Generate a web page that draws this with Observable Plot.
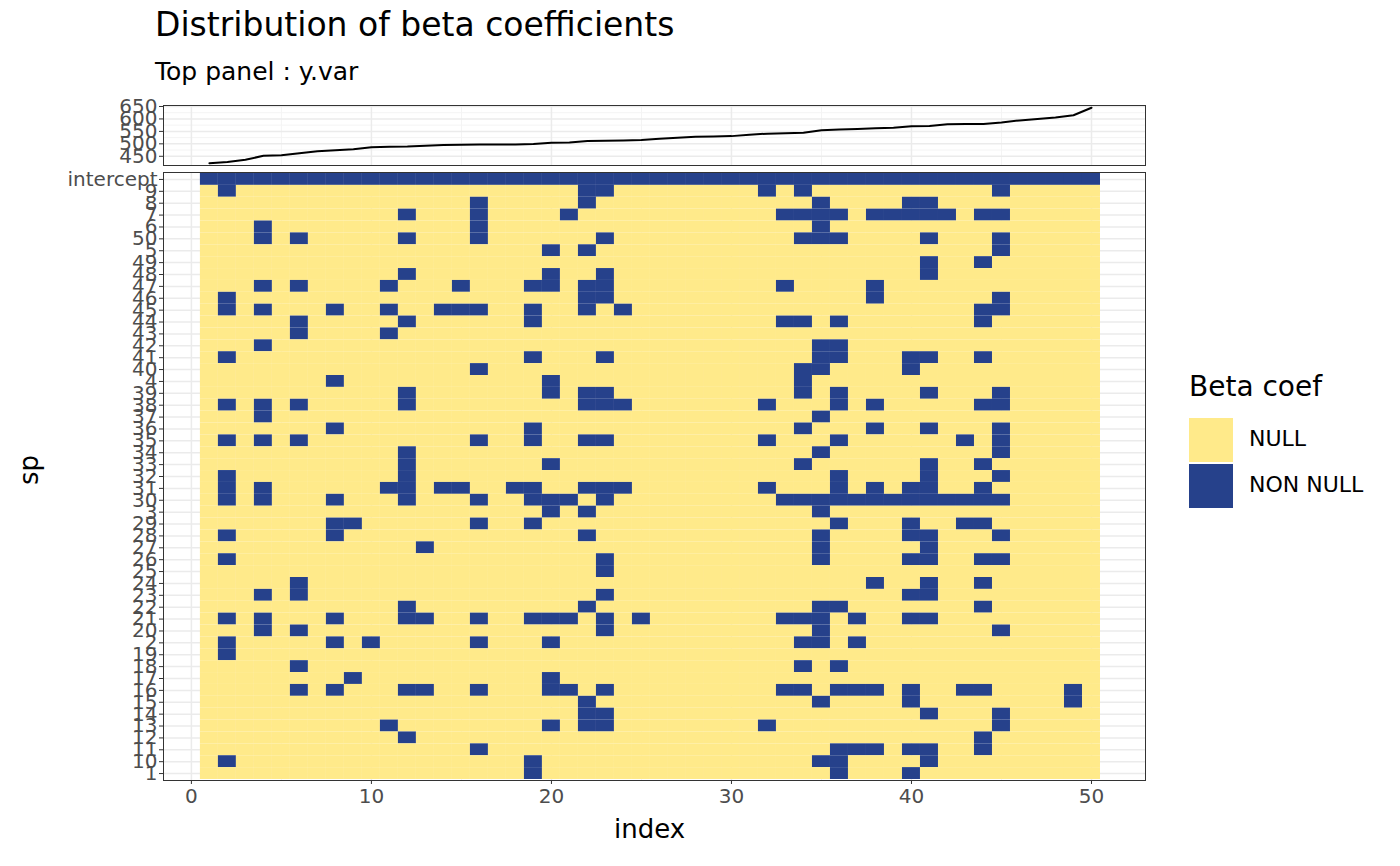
<!DOCTYPE html>
<html>
<head>
<meta charset="utf-8">
<script src="https://cdn.jsdelivr.net/npm/d3@7"></script>
<script src="https://cdn.jsdelivr.net/npm/@observablehq/plot@0.6"></script>
<style>
  body { margin: 0; background: #fff; font-family: "DejaVu Sans", sans-serif; }
  #page { position: relative; width: 1400px; height: 866px; }
  .abs { position: absolute; white-space: nowrap; }
  .key { position: absolute; width: 44px; height: 44px; }
</style>
</head>
<body>
<div id="page">
  <div class="abs" style="left:155px;top:5px;font-size:33px;color:#000">Distribution of beta coefficients</div>
  <div class="abs" style="left:155px;top:57px;font-size:25px;color:#000">Top panel : y.var</div>
  <div class="abs" id="top" style="left:0;top:95px"></div>
  <div class="abs" id="main" style="left:0;top:160px"></div>
  <div class="abs" style="left:14px;top:470px;font-size:26px;transform:translate(0,-50%) rotate(-90deg);transform-origin:center">sp</div>
  <div class="abs" style="left:614px;top:814px;font-size:26px">index</div>
  <div class="abs" style="left:1189px;top:370px;font-size:28px">Beta coef</div>
  <div class="key" style="left:1189px;top:418px;background:#FFEA8A"></div>
  <div class="key" style="left:1189px;top:464px;background:#26418B"></div>
  <div class="abs" style="left:1249px;top:426px;font-size:22px">NULL</div>
  <div class="abs" style="left:1249px;top:472px;font-size:22px">NON NULL</div>
</div>
<script>
// species rows, top to bottom
const spOrder = ["intercept","9","8","7","6","50","5","49","48","47","46","45","44","43","42","41","40","4",
  "39","38","37","36","35","34","33","32","31","30","3","29","28","27","26","25","24","23","22","21","20","2",
  "19","18","17","16","15","14","13","12","11","10","1"];

// index columns where the coefficient is non null, same order as spOrder ("all" for intercept)
const nonNullCols = [
  "all",
  [2,22,23,32,34,45],
  [16,22,35,40,41],
  [12,16,21,33,34,35,36,38,39,40,41,42,44,45],
  [4,16,35],
  [4,6,12,16,23,34,35,36,41,45],
  [20,22,45],
  [41,44],
  [12,20,23,41],
  [4,6,11,15,19,20,22,23,33,38],
  [2,22,23,38,45],
  [2,4,8,11,14,15,16,19,22,24,44,45],
  [6,12,19,33,34,36,44],
  [6,11],
  [4,35,36],
  [2,19,23,35,36,40,41,44],
  [16,34,35,40],
  [8,20,34],
  [12,20,22,23,34,36,41,45],
  [2,4,6,12,22,23,24,32,36,38,44,45],
  [4,35],
  [8,19,34,38,41,45],
  [2,4,6,16,19,22,23,32,36,43,45],
  [12,35,45],
  [12,20,34,41,44],
  [2,12,36,41,45],
  [2,4,11,12,14,15,18,19,22,23,24,32,36,38,40,41,44],
  [2,4,8,12,16,19,20,21,23,33,34,35,36,37,38,39,40,41,42,43,44,45],
  [20,22,35],
  [8,9,16,19,36,40,43,44],
  [2,8,22,35,40,41,45],
  [13,35,41],
  [2,23,35,40,41,44,45],
  [23],
  [6,38,41,44],
  [4,6,23,40,41],
  [12,22,35,36,44],
  [2,4,8,12,13,16,19,20,21,23,25,33,34,35,37,40,41],
  [4,6,23,35,45],
  [2,8,10,16,20,34,35,37],
  [2],
  [6,34,36],
  [9,20],
  [6,8,12,13,16,20,21,23,33,34,36,37,38,40,43,44,49],
  [22,35,40,49],
  [22,23,41,45],
  [11,20,22,23,32,45],
  [12,44],
  [16,36,37,38,40,41,44],
  [2,19,35,36,41],
  [19,36,40]
];

// top panel line
const yVar = [422,427,436,452,454,462,470,474,478,486,488,489,492,495,496,497,497,497,499,504,
  505,511,512,513,515,520,524,528,529,531,537,541,543,545,555,558,560,563,565,571,
  572,579,580,580,586,594,600,606,615,645];

const indexValues = d3.range(1, 51);
const coefLevels = ["NULL", "NON NULL"];
const coefColors = ["#FFEA8A", "#26418B"];

const cells = [];
spOrder.forEach((sp, r) => {
  const cols = nonNullCols[r];
  indexValues.forEach(i => {
    const on = cols === "all" || cols.includes(i);
    cells.push({sp, index: i, coef: on ? "NON NULL" : "NULL"});
  });
});
const line = indexValues.map((i, k) => ({index: i, y: yVar[k]}));

const xDomain = [-1.55, 53.0];
const majorX = [0, 10, 20, 30, 40, 50];
const minorX = [5, 15, 25, 35, 45];

const topChart = Plot.plot({
  width: 1160, height: 75,
  marginLeft: 163, marginRight: 15, marginTop: 10, marginBottom: 5,
  x: {domain: xDomain, axis: null},
  y: {domain: [413, 654], axis: null},
  style: {fontFamily: "DejaVu Sans, sans-serif", fontSize: "20px", color: "#4D4D4D", overflow: "visible"},
  marks: [
    Plot.ruleX(minorX, {stroke: "#F4F4F4", strokeWidth: 1}),
    Plot.ruleY([475, 525, 575, 625], {stroke: "#F4F4F4", strokeWidth: 1}),
    Plot.gridX(majorX, {stroke: "#EBEBEB", strokeOpacity: 1, strokeWidth: 1.5}),
    Plot.gridY([450, 500, 550, 600, 650], {stroke: "#EBEBEB", strokeOpacity: 1, strokeWidth: 1.5}),
    Plot.axisY([450, 500, 550, 600, 650], {tickSize: 4, tickPadding: 2, label: null, fill: "#4D4D4D", stroke: "#333"}),
    Plot.line(line, {x: "index", y: "y", stroke: "#000", strokeWidth: 2}),
    Plot.frame({stroke: "#333"})
  ]
});
document.getElementById("top").append(topChart);

const mainChart = Plot.plot({
  width: 1160, height: 700,
  marginLeft: 163, marginRight: 15, marginTop: 12, marginBottom: 80,
  x: {domain: xDomain, axis: null},
  y: {domain: spOrder, padding: 0, insetTop: 1, insetBottom: 1, axis: null},
  color: {domain: coefLevels, range: coefColors},
  style: {fontFamily: "DejaVu Sans, sans-serif", fontSize: "20px", color: "#4D4D4D", overflow: "visible"},
  marks: [
    Plot.ruleX(minorX, {stroke: "#F4F4F4", strokeWidth: 1}),
    Plot.gridX(majorX, {stroke: "#EBEBEB", strokeOpacity: 1, strokeWidth: 1.5}),
    Plot.gridY({stroke: "#EBEBEB", strokeOpacity: 1, strokeWidth: 1.5}),
    Plot.barX(cells, {x1: d => d.index - 0.5, x2: d => d.index + 0.5, y: "sp", fill: "coef", inset: 0}),
    Plot.axisY({tickSize: 4, tickPadding: 2, label: null, fill: "#4D4D4D", stroke: "#333"}),
    Plot.axisX(majorX, {tickSize: 4, tickPadding: 4, label: null, fill: "#4D4D4D", stroke: "#333"}),
    Plot.frame({stroke: "#333"})
  ]
});
document.getElementById("main").append(mainChart);
</script>
</body>
</html>
